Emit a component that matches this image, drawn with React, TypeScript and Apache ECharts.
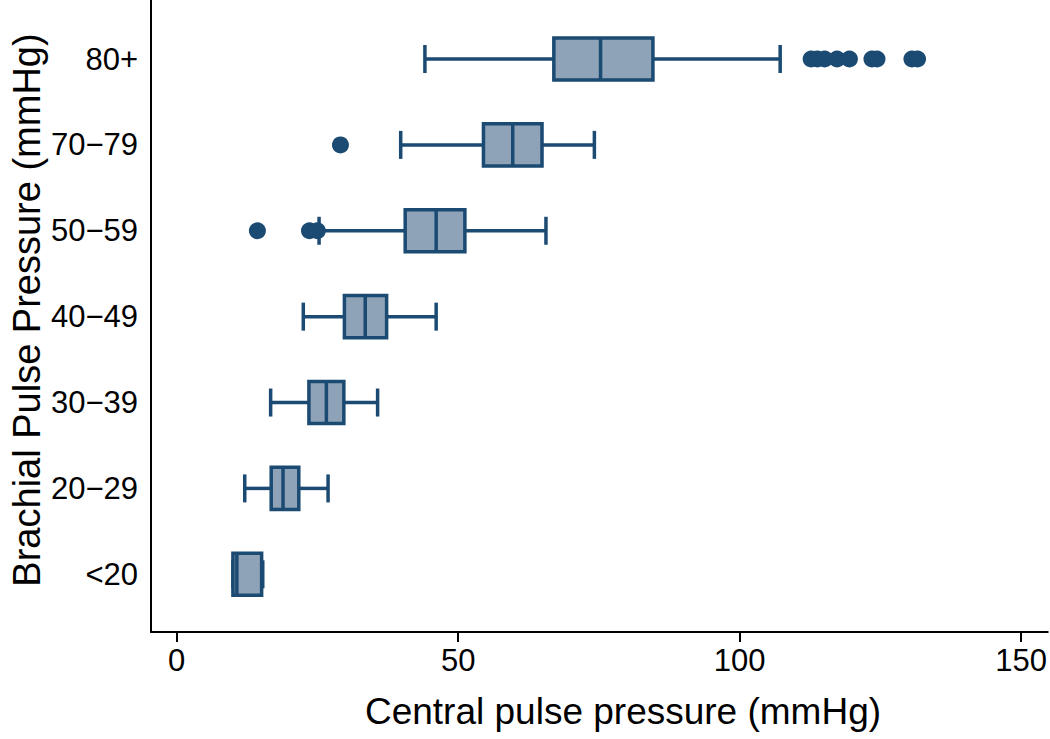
import React, { useEffect, useRef } from "react";
import * as echarts from "echarts";

const categories = ["<20", "20−29", "30−39", "40−49", "50−59", "70−79", "80+"];
const whiskerLow = [10.0, 12.1, 16.7, 22.5, 25.3, 39.8, 44.1];
const q1 = [10.0, 16.8, 23.5, 29.8, 40.6, 54.5, 67.0];
const median = [10.7, 18.9, 26.6, 33.5, 46.1, 59.7, 75.3];
const q3 = [15.1, 21.7, 29.7, 37.3, 51.2, 64.9, 84.6];
const whiskerHigh = [15.3, 26.9, 35.7, 46.1, 65.6, 74.2, 107.2];

const outlierValues = [14.35, 23.6, 25.0, 29.1, 112.7, 113.8, 115.1, 117.3, 119.5, 123.5, 124.4, 130.6, 131.6];
const outlierGroups = [4, 4, 4, 5, 6, 6, 6, 6, 6, 6, 6, 6, 6];

const xTicks = [0, 50, 100, 150];
const xTitle = "Central pulse pressure (mmHg)";
const yTitle = "Brachial Pulse Pressure (mmHg)";

const STROKE = "#1b4a72";
const FILL = "#8ea3b7";
const FONT = "'Liberation Sans', Arial, Helvetica, sans-serif";

export default function App() {
  const ref = useRef<HTMLDivElement>(null);
  useEffect(() => {
    if (!ref.current) return;
    const chart = echarts.init(ref.current, null, { renderer: "svg" });
    const boxData = categories.map((_, i) => [i, whiskerLow[i], q1[i], median[i], q3[i], whiskerHigh[i]]);
    const outData = outlierValues.map((v, i) => [v, outlierGroups[i]]);
    const option: any = {
      animation: false,
      backgroundColor: "#ffffff",
      grid: { left: 151, right: 0, top: 0, bottom: 107, containLabel: false },
      xAxis: {
        type: "value",
        min: -4.55,
        max: 154.73,
        axisLine: { show: true, onZero: false, lineStyle: { color: "#000", width: 2 } },
        axisTick: { show: true, length: 10, customValues: xTicks, lineStyle: { color: "#000", width: 2 } },
        axisLabel: { customValues: xTicks, color: "#000", fontSize: 31, fontFamily: FONT, margin: 13 },
        splitLine: { show: false },
      },
      yAxis: {
        type: "value",
        min: -0.672,
        max: 6.687,
        axisLine: { show: true, onZero: false, lineStyle: { color: "#000", width: 2 } },
        axisTick: { show: false },
        axisLabel: {
          customValues: categories.map((_, i) => i),
          formatter: (v: number) => categories[Math.round(v)] ?? "",
          color: "#000",
          fontSize: 31,
          fontFamily: FONT,
          margin: 13,
        },
        splitLine: { show: false },
      },
      graphic: [
        {
          type: "text",
          x: 623,
          y: 711,
          style: { text: xTitle, font: `37px ${FONT}`, fill: "#000", textAlign: "center", textVerticalAlign: "middle" },
        },
        {
          type: "text",
          x: 27,
          y: 310,
          rotation: Math.PI / 2,
          style: { text: yTitle, font: `38px ${FONT}`, fill: "#000", textAlign: "center", textVerticalAlign: "middle" },
        },
      ],
      series: [
        {
          type: "custom",
          data: boxData,
          encode: { x: [1, 2, 3, 4, 5], y: 0 },
          renderItem: (params: any, api: any) => {
            const y = api.value(0);
            const pLo = api.coord([api.value(1), y]);
            const pQ1 = api.coord([api.value(2), y]);
            const pMed = api.coord([api.value(3), y]);
            const pQ3 = api.coord([api.value(4), y]);
            const pHi = api.coord([api.value(5), y]);
            const unit = api.size([0, 1])[1];
            const bh = unit * 0.245;
            const ch = unit * 0.163;
            const ls = { stroke: STROKE, lineWidth: 3.5, fill: null };
            const cy = pMed[1];
            return {
              type: "group",
              children: [
                { type: "line", shape: { x1: pLo[0], y1: cy, x2: pQ1[0], y2: cy }, style: ls },
                { type: "line", shape: { x1: pQ3[0], y1: cy, x2: pHi[0], y2: cy }, style: ls },
                { type: "line", shape: { x1: pLo[0], y1: cy - ch, x2: pLo[0], y2: cy + ch }, style: ls },
                { type: "line", shape: { x1: pHi[0], y1: cy - ch, x2: pHi[0], y2: cy + ch }, style: ls },
                {
                  type: "rect",
                  shape: { x: pQ1[0], y: cy - bh, width: pQ3[0] - pQ1[0], height: bh * 2 },
                  style: { fill: FILL, stroke: STROKE, lineWidth: 3.5 },
                },
                { type: "line", shape: { x1: pMed[0], y1: cy - bh, x2: pMed[0], y2: cy + bh }, style: ls },
              ],
            };
          },
          z: 2,
        },
        {
          type: "scatter",
          data: outData,
          symbol: "circle",
          symbolSize: 17,
          itemStyle: { color: STROKE, opacity: 1 },
          z: 3,
        },
      ],
    };
    chart.setOption(option);
    return () => chart.dispose();
  }, []);
  return <div ref={ref} style={{ position: "absolute", left: 0, top: 0, width: 1050, height: 739 }} />;
}
